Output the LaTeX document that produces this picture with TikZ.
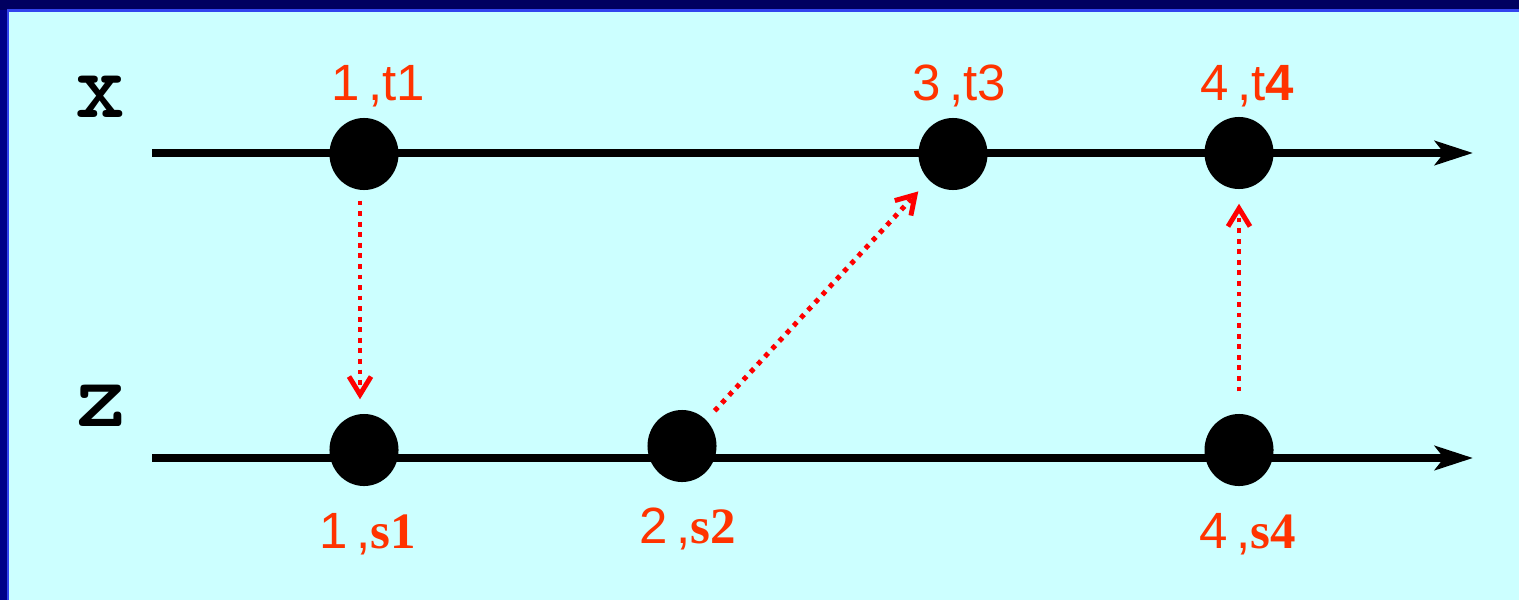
\documentclass[tikz,border=0pt]{standalone}
\usepackage{fontspec}
\setmainfont{Liberation Sans}
\newfontfamily\serifb{Liberation Serif}
\usetikzlibrary{arrows.meta,shapes.geometric}
\definecolor{bgcyan}{HTML}{CCFFFF}
\definecolor{navytop}{HTML}{000060}
\definecolor{navyleft}{HTML}{000088}
\definecolor{edgeblue}{HTML}{3344EE}
\definecolor{lblred}{HTML}{FF3300}
\definecolor{arrred}{HTML}{FF0000}
\begin{document}
\begin{tikzpicture}[x=0.01cm,y=-0.01cm,
  dot/.style={ellipse,fill=black,minimum width=0.69cm,minimum height=0.72cm,inner sep=0pt},
  timeline/.style={line width=2.3pt,-{Stealth[length=0.38cm,width=0.24cm,inset=0.09cm]}},
  msg/.style={arrred,line width=1.4pt,dash pattern=on 1.35pt off 1.65pt,-{Straight Barb[length=0.18cm,width=0.22cm]}},
  evlabel/.style={text=lblred,font=\fontsize{14.5}{16}\selectfont,inner sep=0pt},
  proc/.style={font=\ttfamily\bfseries\fontsize{27}{30}\selectfont,inner sep=0pt}]
\useasboundingbox (0,0) rectangle (1519,600);
% background and frame
\fill[bgcyan] (0,0) rectangle (1519,600);
\fill[navyleft] (0,0) rectangle (8,600);
\fill[navytop] (0,0) rectangle (1519,10);
\draw[edgeblue,line width=0.7pt] (8,600) -- (8,10.5) -- (1519,10.5);
% process labels
\node[proc] (px) at (100,97) {x};
\node[proc] (pz) at (101,406) {z};
% time lines
\coordinate (xs) at (152,153); \coordinate (xe) at (1473,153);
\coordinate (zs) at (152,458); \coordinate (ze) at (1473,458);
\draw[timeline] (xs) -- (xe);
\draw[timeline] (zs) -- (ze);
% events
\node[dot] (t1) at (364,154) {};
\node[dot] (t3) at (953,154) {};
\node[dot] (t4) at (1239,153) {};
\node[dot] (s1) at (364,450) {};
\node[dot] (s2) at (682,446) {};
\node[dot] (s4) at (1239,450) {};
% messages
\draw[msg,shorten <=0.1cm,shorten >=0.14cm] ([xshift=-0.04cm]t1.south) -- ([xshift=-0.04cm]s1.north);
\draw[msg,shorten <=0.12cm,shorten >=0.15cm] (s2) -- (t3);
\draw[msg,shorten <=0.22cm,shorten >=0.14cm] (s4) -- (t4);
% event labels
\node[evlabel] (lt1) at (378,86) {1\,,t1};
\node[evlabel] (lt3) at (959,86) {3\,,t3};
\node[evlabel] (lt4) at (1247,86) {4\,,t\textbf{4}};
\node[evlabel] (ls1) at (368,534) {1\,,{\serifb\bfseries s1}};
\node[evlabel] (ls2) at (688,529) {2\,,{\serifb\bfseries s2}};
\node[evlabel] (ls4) at (1248,534) {4\,,{\serifb\bfseries s4}};
\end{tikzpicture}
\end{document}
